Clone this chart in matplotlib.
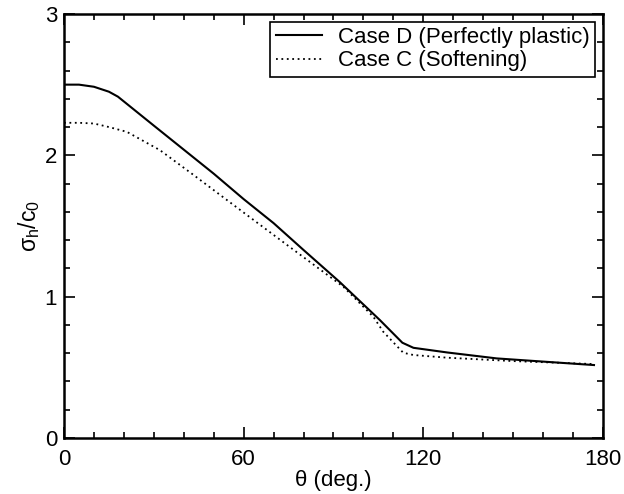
import numpy as np
import matplotlib
matplotlib.use("Agg")
import matplotlib.pyplot as plt
from matplotlib.ticker import MultipleLocator

plt.rcParams['font.family'] = ['Liberation Sans', 'DejaVu Sans']
plt.rcParams['mathtext.fontset'] = 'custom'
plt.rcParams['mathtext.rm'] = 'Liberation Sans'
plt.rcParams['mathtext.it'] = 'Liberation Sans'
plt.rcParams['mathtext.default'] = 'regular'

# Case D (perfectly plastic)
theta_d = [0, 5, 10, 15, 18, 30, 40, 50, 60, 70, 80, 92, 105.5, 113, 116.7, 128, 144.5, 161, 177]
sig_d = [2.50, 2.50, 2.485, 2.45, 2.415, 2.21, 2.04, 1.87, 1.69, 1.52, 1.33, 1.105, 0.834, 0.674, 0.638, 0.605, 0.563, 0.539, 0.516]

# Case C (softening)
theta_c = [0, 5, 10, 15, 21, 32, 43, 54, 61, 74.4, 93.3, 103.3, 106.6, 113.3, 116.7, 128, 150, 177]
sig_c = [2.23, 2.23, 2.225, 2.20, 2.166, 2.037, 1.865, 1.69, 1.579, 1.367, 1.07, 0.858, 0.752, 0.603, 0.587, 0.568, 0.544, 0.523]

fig = plt.figure(figsize=(6.24, 4.94), dpi=100)
ax = fig.add_axes([0.1026, 0.1134, 0.8637, 0.8583])

ax.plot(theta_d, sig_d, color='k', lw=1.5, label='Case D (Perfectly plastic)')
ax.plot(theta_c, sig_c, color='k', lw=1.3, linestyle=(0, (1, 2)), label='Case C (Softening)')

ax.set_xlim(0, 180)
ax.set_ylim(0, 3)
ax.xaxis.set_major_locator(MultipleLocator(60))
ax.xaxis.set_minor_locator(MultipleLocator(10))
ax.yaxis.set_major_locator(MultipleLocator(1))
ax.yaxis.set_minor_locator(MultipleLocator(0.2))
ax.tick_params(which='both', direction='in', top=True, right=True, labelsize=16, width=1.2)
ax.tick_params(which='major', length=8)
ax.tick_params(which='minor', length=4)
ax.tick_params(axis='x', which='major', pad=8)
ax.tick_params(axis='y', which='major', pad=5)
for s in ax.spines.values():
    s.set_linewidth(1.8)

ax.set_xlabel('θ (deg.)', fontsize=16, labelpad=0)
ax.set_ylabel(r'$σ_h/c_0$', fontsize=16.5, labelpad=2)

leg = ax.legend(loc='upper right', bbox_to_anchor=(0.9857, 0.9818), borderaxespad=0,
                fancybox=False, edgecolor='k', framealpha=1, fontsize=16,
                handlelength=2.1, handletextpad=0.7, labelspacing=0.1, borderpad=0.25)
leg.get_frame().set_linewidth(1.2)

fig.savefig('out.png', dpi=100)
